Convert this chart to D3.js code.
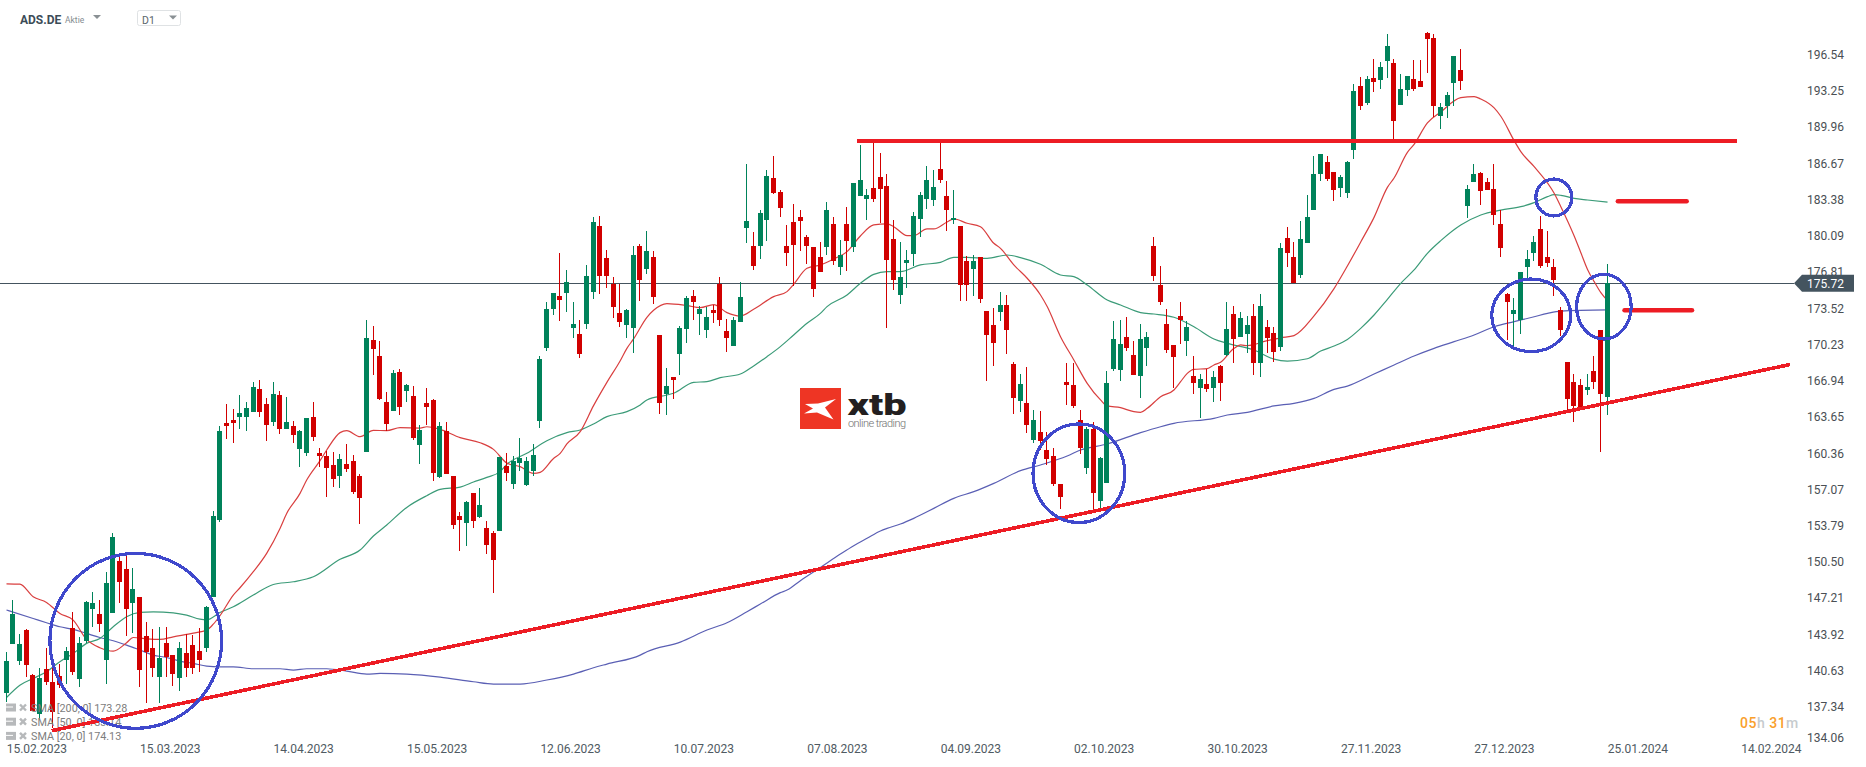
<!DOCTYPE html>
<html>
<head>
<meta charset="utf-8">
<title>ADS.DE</title>
<script src="https://d3js.org/d3.v7.min.js"></script>
<style>
  body { margin: 0; background: #fff; }
  text { font-family: Roboto, sans-serif; }
</style>
</head>
<body>
<div class="chart"></div>
<script>
// daily candles, one value per bar
var opens = [
  138.26,142.71,141.16,143.99,139.88,136.31,140.40,139.21,139.79,141.25,
  144.15,139.51,143.02,145.92,145.46,141.25,145.58,150.28,149.58,146.47,
  146.98,143.45,142.32,139.72,142.78,141.68,139.63,141.86,142.59,142.07,
  142.35,147.05,154.07,162.94,163.21,163.49,163.49,163.95,166.05,164.68,
  163.03,165.50,162.39,162.67,160.56,160.20,163.49,160.20,159.92,159.10,
  158.09,159.19,159.46,158.09,160.29,170.54,169.07,164.86,164.04,167.61,
  165.87,165.41,160.93,164.77,165.05,158.00,162.21,158.09,154.43,153.79,
  156.53,154.34,153.33,152.87,153.06,159.00,157.36,159.28,157.27,158.55,
  163.12,169.80,173.37,174.56,174.84,171.63,171.08,172.00,174.93,180.97,
  178.04,175.69,173.01,171.91,171.63,179.14,177.03,178.13,170.99,165.59,
  167.15,169.25,171.54,174.56,172.91,171.45,173.28,175.69,171.36,169.99,
  172.18,180.78,179.14,179.14,181.51,185.36,184.08,179.14,181.33,181.79,
  179.96,179.04,178.13,179.04,181.15,177.21,181.15,179.04,183.71,183.44,
  184.44,185.45,184.63,179.78,174.65,177.58,178.40,181.61,183.44,183.35,
  186.18,183.71,181.52,180.97,177.76,177.03,178.13,173.19,171.91,173.10,
  173.74,168.34,164.95,164.77,161.39,162.12,160.47,159.92,157.36,166.69,
  166.42,163.22,158.82,162.39,155.80,157.45,167.88,167.79,170.81,169.16,
  167.24,169.80,179.14,175.57,172.00,170.08,172.73,170.44,167.24,166.14,
  166.51,166.14,168.16,169.16,172.91,170.81,171.08,172.73,168.43,171.72,
  171.18,169.89,179.86,178.13,176.48,179.41,182.42,185.72,186.82,185.90,
  184.44,183.98,187.91,193.77,192.22,194.50,194.32,196.06,195.88,192.03,
  193.41,194.41,194.23,198.62,198.16,191.03,191.94,194.05,195.24,182.79,
  184.99,185.81,184.99,184.35,181.14,174.74,172.91,172.36,177.21,178.49,
  180.69,178.13,177.21,173.27,168.52,166.69,166.41,165.95,167.69,171.45,
  165.31
];
var closes = [
  141.16,145.46,142.71,140.79,136.61,139.57,139.21,136.52,138.96,142.07,
  140.18,142.78,146.56,146.44,144.54,148.30,152.50,148.42,145.92,147.72,
  140.33,142.01,140.55,141.43,141.49,139.97,142.32,140.49,140.49,141.25,
  146.10,154.43,162.21,162.67,162.94,163.86,164.31,166.23,163.95,162.76,
  165.59,162.39,163.03,161.84,162.21,163.40,161.66,159.92,158.82,157.82,
  159.65,158.73,156.63,156.08,170.72,169.71,165.14,162.85,167.52,164.40,
  166.42,161.57,162.30,164.40,158.37,162.67,158.27,153.61,154.07,155.71,
  153.97,155.44,151.78,150.40,159.83,158.37,159.46,159.74,159.46,160.01,
  168.80,173.37,174.84,174.20,175.84,172.00,169.25,176.39,181.33,176.39,
  176.39,173.55,172.18,173.28,178.31,176.03,178.68,174.47,164.77,166.33,
  166.88,171.63,174.38,174.01,173.37,172.64,173.01,172.37,170.72,172.37,
  174.47,181.42,177.31,182.16,185.54,183.99,182.61,178.50,179.23,181.42,
  179.14,175.20,176.76,182.43,177.76,178.31,179.59,184.90,185.18,183.80,
  183.44,184.35,177.86,176.03,176.30,177.86,181.88,183.80,185.18,184.53,
  185.18,182.43,181.70,175.57,175.57,177.76,174.29,170.99,170.26,173.74,
  171.45,165.23,166.51,162.76,163.22,161.29,159.65,157.36,156.17,166.42,
  164.50,160.65,162.39,156.54,159.74,166.60,170.63,170.17,169.80,167.33,
  170.63,170.81,176.39,174.01,169.62,168.98,172.37,171.72,166.60,166.97,
  166.05,167.15,166.60,171.54,170.63,172.55,171.91,168.43,173.65,170.72,
  169.44,178.95,178.49,175.72,179.77,181.78,185.72,187.55,185.26,184.25,
  185.44,186.82,193.31,191.94,194.41,194.14,195.51,197.43,190.57,193.50,
  194.69,193.50,193.68,198.07,191.94,191.85,192.95,196.52,194.23,184.35,
  185.72,184.16,184.25,181.97,178.95,174.01,173.27,176.75,177.94,179.50,
  177.30,177.58,176.02,171.45,165.13,164.49,164.31,166.23,166.69,165.59,
  175.72
];
var highs = [
  142.01,146.74,143.63,144.06,139.97,140.49,142.32,140.79,140.94,142.41,
  145.61,143.32,146.65,147.47,146.74,149.30,152.84,150.70,150.83,149.70,
  146.98,144.76,144.06,144.24,144.24,141.71,142.87,143.63,143.54,144.15,
  146.19,154.89,162.67,164.68,164.22,165.50,164.86,166.69,166.88,165.23,
  166.69,165.87,165.32,163.12,162.30,163.40,164.86,160.65,160.38,160.29,
  160.10,161.02,160.01,158.27,172.36,171.82,170.44,165.78,167.79,167.88,
  166.51,166.33,162.76,166.14,165.14,163.03,163.03,158.09,154.80,155.80,
  156.53,156.99,153.97,153.06,159.86,160.20,159.92,161.57,159.83,161.02,
  169.07,174.01,174.84,178.50,176.94,174.01,172.37,177.40,181.79,181.88,
  178.77,176.30,175.69,173.37,179.14,179.32,180.51,178.68,170.99,167.97,
  167.15,171.82,174.56,175.11,173.65,173.55,173.74,176.30,172.43,172.64,
  175.84,186.64,180.42,182.43,186.09,187.37,184.26,181.06,182.98,182.43,
  180.14,179.04,179.50,183.16,181.79,179.69,182.70,184.90,188.38,184.32,
  188.65,187.65,185.72,181.52,179.50,178.77,182.25,184.08,186.46,186.09,
  188.65,185.08,184.26,180.97,178.22,178.31,178.13,173.19,173.46,174.93,
  174.65,168.52,167.42,168.06,164.13,164.04,162.12,160.65,157.36,168.43,
  168.43,164.13,162.60,163.03,159.83,167.70,172.27,172.37,172.64,170.44,
  172.00,171.27,179.96,177.31,173.37,170.08,174.01,172.27,169.07,167.42,
  167.88,167.70,168.25,174.01,173.65,173.10,172.73,173.83,174.74,172.37,
  171.72,179.41,180.87,179.50,181.42,183.80,187.37,187.55,187.37,185.90,
  185.63,186.91,193.95,194.59,194.69,196.24,195.97,198.53,196.24,194.87,
  194.69,196.15,196.15,198.71,198.53,192.22,193.22,196.52,197.16,184.71,
  186.63,185.90,185.35,186.63,182.42,174.83,174.37,176.75,178.77,180.05,
  181.88,180.50,177.94,173.55,168.52,167.42,166.96,167.42,169.07,171.45,
  177.48
];
var lows = [
  137.44,142.71,140.79,139.72,136.61,135.76,138.96,135.00,138.66,139.11,
  139.88,138.81,142.84,144.30,143.84,139.05,145.52,146.50,143.45,143.69,
  138.75,137.29,139.72,137.35,139.72,138.87,138.44,139.72,139.97,140.18,
  142.01,147.05,153.88,161.47,161.11,162.39,162.21,163.95,163.49,161.29,
  162.67,161.93,162.39,161.11,158.91,159.92,161.29,158.91,156.17,157.08,
  156.99,158.46,156.44,153.70,160.29,167.33,165.05,162.21,164.04,163.67,
  164.86,161.39,159.19,162.76,157.63,157.91,158.27,153.24,151.23,151.69,
  153.33,154.25,150.95,147.39,153.06,157.63,156.90,158.55,157.18,158.09,
  162.51,169.53,172.82,172.27,173.10,170.72,168.89,171.54,174.29,174.74,
  175.29,172.55,171.72,170.72,169.35,174.10,176.57,173.83,163.76,163.67,
  165.14,167.33,170.26,172.37,170.99,170.72,172.09,171.82,169.44,169.99,
  172.18,179.41,176.94,177.95,179.59,183.89,181.79,177.31,175.48,178.68,
  177.49,174.47,176.76,178.31,177.40,176.48,176.85,178.59,183.71,181.52,
  183.16,181.24,171.63,175.11,173.83,175.29,177.31,179.96,182.52,182.80,
  184.90,180.51,181.15,174.10,174.10,174.56,173.92,166.78,168.16,172.27,
  169.25,163.76,163.95,162.03,161.11,160.47,159.10,157.18,155.07,164.59,
  164.31,160.10,158.27,154.98,155.16,157.45,167.70,166.78,169.53,167.33,
  165.23,168.16,175.93,173.74,169.35,166.14,170.17,169.07,165.59,163.40,
  165.78,164.86,164.95,169.07,168.43,170.81,169.35,167.33,167.15,169.35,
  168.52,169.52,177.21,175.72,176.20,179.41,182.42,185.08,185.08,183.25,
  183.61,183.52,187.09,191.58,192.03,193.22,193.50,194.50,188.83,192.03,
  192.86,193.31,193.68,194.96,190.93,189.84,190.84,191.94,193.41,181.69,
  184.99,182.88,184.25,181.05,178.13,170.53,169.92,171.08,176.02,177.76,
  177.12,177.21,174.56,170.90,164.13,163.03,164.13,165.50,166.05,160.28,
  163.67
];

// moving averages, sampled at the listed bars
var sma20Bars = [0,2,4,6,8,10,12,14,16,18,19,21,23,25,28,30,31,32,34,35,37,39,41,42,44,45,47,48,50,51,53,55,57,59,62,63,65,68,71,73,75,77,79,80,82,83,84,86,88,90,92,93,94,96,97,99,102,104,106,108,110,112,115,117,118,120,122,124,126,128,130,132,133,135,136,138,139,141,142,144,146,148,149,151,153,155,156,158,160,162,164,165,167,169,170,171,173,175,176,177,178,180,181,182,184,185,186,189,191,193,196,199,201,203,205,207,208,210,211,213,215,218,220,221,223,224,226,227,229,232,233,235,236,237,238,239,240];
var sma20Values = [148.23,148.20,147.05,146.53,145.52,144.91,143.14,142.38,142.07,142.84,143.32,143.20,143.14,143.38,143.72,143.99,144.54,145.31,147.20,147.87,149.34,151.02,153.30,154.67,156.50,157.72,159.50,160.47,162.06,162.24,161.69,162.27,162.24,162.51,162.48,162.60,162.36,161.60,161.14,160.53,159.28,158.95,158.33,158.43,159.70,160.17,161.02,162.15,164.53,166.66,168.64,169.77,170.63,172.61,173.25,173.86,173.68,173.49,173.77,173.04,172.73,173.34,174.50,174.96,175.63,177.09,177.40,177.95,178.62,180.05,181.06,181.15,180.90,180.08,180.08,180.69,180.69,181.33,181.61,181.21,180.90,179.38,178.92,177.40,176.18,174.65,173.59,170.84,168.71,166.57,165.05,164.50,164.34,163.98,163.92,164.28,165.35,165.96,166.72,167.48,167.85,167.91,168.25,168.49,169.77,170.08,170.02,170.47,170.73,170.93,172.73,175.23,177.30,179.50,181.75,184.50,185.35,187.70,188.43,190.39,191.39,192.70,192.80,192.58,191.76,191.00,188.77,187.76,186.39,183.95,182.73,180.05,178.52,176.99,175.87,174.86,174.13];

var sma50Bars = [0,2,4,6,8,10,12,14,16,18,20,22,25,27,29,30,32,34,37,40,43,46,50,53,55,57,60,63,65,68,70,72,74,75,78,81,84,86,88,90,93,95,96,99,100,103,105,107,110,112,114,116,118,120,122,123,126,128,130,132,134,137,140,142,144,147,150,152,155,158,160,162,165,167,170,172,175,178,181,183,187,190,192,195,197,199,201,203,205,207,209,211,213,215,218,221,224,227,229,231,232,233,235,237,240];
var sma50Values = [137.83,138.96,139.57,140.18,141.10,141.86,142.78,143.23,144.30,145.22,145.61,145.67,145.58,145.37,145.00,144.94,145.60,146.13,147.20,148.17,148.42,148.87,150.47,151.32,152.60,153.61,155.22,156.29,156.87,157.08,157.54,157.97,158.49,159.16,160.17,161.32,162.06,162.30,162.85,163.52,163.98,164.59,165.05,165.50,165.66,166.66,166.72,167.09,167.42,168.16,169.01,169.93,170.99,172.06,172.97,173.59,174.65,175.72,176.54,176.79,176.79,177.40,177.64,178.10,178.10,178.00,178.31,178.07,177.46,176.48,176.33,175.57,174.20,173.74,173.04,172.91,172.61,171.75,170.63,170.23,169.62,168.78,168.61,168.82,169.52,169.98,170.59,171.60,172.82,174.25,175.72,176.94,178.46,179.62,181.05,181.97,182.42,182.73,183.10,183.65,183.83,183.77,183.49,183.34,183.14];

var sma200Bars = [0,4,6,8,10,12,14,16,18,20,22,24,26,28,30,32,34,37,41,43,45,48,51,54,56,60,65,70,73,77,81,85,88,90,95,96,101,105,108,111,113,116,117,119,122,125,127,129,131,132,134,136,139,142,145,148,152,155,159,161,165,170,173,175,181,183,186,190,193,196,199,201,205,208,211,214,217,220,223,226,229,231,233,240];
var sma200Values = [145.83,145.06,144.67,144.30,144.06,143.69,143.32,143.02,142.62,142.17,141.71,141.49,141.16,140.95,140.70,140.64,140.64,140.46,140.46,140.33,140.46,140.46,140.24,139.97,140.03,139.97,139.70,139.27,139.06,139.06,139.43,139.97,140.55,140.89,141.71,142.02,142.90,144.00,144.67,145.68,146.38,147.42,147.66,148.52,149.73,150.95,151.72,152.39,153.06,153.30,153.70,154.22,155.13,156.05,156.66,157.42,158.58,159.10,159.92,160.47,161.02,162.06,162.60,162.91,163.37,163.67,163.92,164.50,164.74,165.19,166.02,166.32,167.42,168.25,169.07,169.77,170.38,170.99,171.75,172.21,172.66,172.97,173.18,173.28];

// axis labels
var priceTicks = [196.54,193.25,189.96,186.67,183.38,180.09,176.81,173.52,170.23,166.94,163.65,160.36,157.07,153.79,150.50,147.21,143.92,140.63,137.34,134.06];
var dateBars = [0,20,40,60,80,100,120,140,160,180,200,220,240,260];
var dateLabels = ["15.02.2023","15.03.2023","14.04.2023","15.05.2023","12.06.2023","10.07.2023","07.08.2023","04.09.2023","02.10.2023","30.10.2023","27.11.2023","27.12.2023","25.01.2024","14.02.2024"];
var lastPrice = 175.72;

// hand drawn analysis on top of the chart
var redLineBars = [[6.8,267.4],[127.55,259.4]];
var redLinePrices = [[134.79,168.29],[188.71,188.71]];
var markerBars = [[241.6,251.9],[242.6,252.7]];
var markerPrices = [183.22,173.25];
var circleBars = [19.42,160.8,232.0,228.6,239.5];
var circlePrices = [143.01,158.34,183.57,172.79,173.58];
var circleBarRadius = [12.87,6.87,2.7,5.92,4.09];
var circlePriceRadius = [8.0,4.51,1.69,3.32,2.96];

var legendLabels = ["SMA [200, 0] 173.28","SMA [50, 0] 183.14","SMA [20, 0] 174.13"];

var svgWidth = 1866;
var svgHeight = 767;

var svg = d3.select(".chart")
  .append("svg")
  .attr("width", svgWidth)
  .attr("height", svgHeight)
  .style("display", "block");

var xScale = d3.scaleLinear().domain([0, 260]).range([6.2, 1740.66]);
var yScale = d3.scaleLinear().domain([196.54, 175.72]).range([55.7, 283.3]);
// labels are spaced a little wider than the candles and the last one is pushed up
var yTickScale = d3.scaleLinear().domain([196.54, 137.34, 134.06]).range([54.5, 706.9, 738]);

var barIndex = d3.range(opens.length);
var upColor = "#00825a";
var downColor = "#d10000";

// header
svg.append("text").attr("x", 20).attr("y", 23.5)
  .attr("font-size", 12).attr("font-weight", 700).attr("fill", "#3c4c57").text("ADS.DE");
svg.append("text").attr("x", 65).attr("y", 22.5)
  .attr("font-size", 8.5).attr("fill", "#858c91").text("Aktie");
svg.append("path").attr("d", "M93,15H101L97,19Z").attr("fill", "#8a9094");
svg.append("rect").attr("x", 137.5).attr("y", 10.5).attr("width", 43).attr("height", 15).attr("rx", 2)
  .attr("fill", "#fff").attr("stroke", "#dfe2e4");
svg.append("text").attr("x", 142).attr("y", 24)
  .attr("font-size", 10.5).attr("fill", "#5a656c").text("D1");
svg.append("path").attr("d", "M169,15.5H177L173,19.5Z").attr("fill", "#8a9094");

// logo
var logo = svg.append("g").attr("transform", "translate(800, 388)");
logo.append("rect").attr("width", 41).attr("height", 41).attr("fill", "#ee3524");
logo.append("path")
  .attr("d", "M5,16L18,15.5L36,11L25,19.5L33.5,31.5L17,24.5L4,25.5L13,20.5Z")
  .attr("fill", "#fff");
logo.append("text").attr("x", 47.5).attr("y", 27)
  .attr("font-size", 29).attr("font-weight", 900).attr("fill", "#231f20")
  .attr("textLength", 59).attr("lengthAdjust", "spacingAndGlyphs").text("xtb");
logo.append("text").attr("x", 48).attr("y", 38.5)
  .attr("font-size", 11).attr("font-weight", 300).attr("fill", "#6f6f6f")
  .attr("textLength", 58).text("online trading");

// current price line sits under the candles
svg.append("line")
  .attr("x1", 0).attr("x2", 1794)
  .attr("y1", yScale(lastPrice)).attr("y2", yScale(lastPrice))
  .attr("stroke", "#44545f").attr("stroke-width", 1)
  .attr("shape-rendering", "crispEdges");

// moving averages
function smaLine(bars, values, color) {
  var line = d3.line()
    .x(d => xScale(bars[d]) + 0.3)
    .y(d => yScale(values[d]))
    .curve(d3.curveMonotoneX);
  svg.append("path")
    .attr("d", line(d3.range(bars.length)))
    .attr("fill", "none")
    .attr("stroke", color)
    .attr("stroke-width", 1.2);
}
smaLine(sma200Bars, sma200Values, "#5a5fb4");
smaLine(sma50Bars, sma50Values, "#3b9b78");
smaLine(sma20Bars, sma20Values, "#d93f3f");

// candles, wick one pixel wide, body five
var candles = svg.selectAll(".candle")
  .data(barIndex)
  .enter()
  .append("g")
  .attr("class", "candle")
  .attr("shape-rendering", "crispEdges")
  .attr("fill", d => closes[d] >= opens[d] ? upColor : downColor);

candles.append("rect")
  .attr("x", d => Math.floor(xScale(d)))
  .attr("width", 1)
  .attr("y", d => yScale(highs[d]))
  .attr("height", d => yScale(lows[d]) - yScale(highs[d]));

candles.append("rect")
  .attr("x", d => Math.floor(xScale(d)) - 2)
  .attr("width", 5)
  .attr("y", d => yScale(Math.max(opens[d], closes[d])))
  .attr("height", d => Math.max(2, Math.abs(yScale(opens[d]) - yScale(closes[d]))));

// axes
var xAxis = d3.axisBottom(xScale)
  .tickValues(dateBars)
  .tickFormat((d, i) => dateLabels[i])
  .tickSize(0)
  .tickPadding(0);

var xAxisGroup = svg.append("g").attr("transform", "translate(0, 744)").call(xAxis);
xAxisGroup.select(".domain").remove();
xAxisGroup.selectAll("text")
  .attr("text-anchor", "start")
  .attr("font-size", 12)
  .attr("font-family", "Roboto, sans-serif")
  .attr("fill", "#4f5a62");

var yAxis = d3.axisRight(yTickScale)
  .tickValues(priceTicks)
  .tickFormat(d3.format(".2f"))
  .tickSize(0)
  .tickPadding(0);

var yAxisGroup = svg.append("g").attr("transform", "translate(1807, 0)").call(yAxis);
yAxisGroup.select(".domain").remove();
yAxisGroup.selectAll("text")
  .attr("font-size", 12)
  .attr("font-family", "Roboto, sans-serif")
  .attr("fill", "#4a4f54");

// last price tag
var tagY = yScale(lastPrice);
svg.append("path")
  .attr("d", `M1794,${tagY}L1802,${tagY - 8.5}H1854V${tagY + 8.5}H1802Z`)
  .attr("fill", "#44545f");
svg.append("text").attr("x", 1807).attr("y", tagY + 5)
  .attr("font-size", 12).attr("fill", "#fff").text(d3.format(".2f")(lastPrice));

// countdown
var countdown = svg.append("text").attr("x", 1740).attr("y", 728)
  .attr("font-size", 14).attr("font-weight", 500).attr("letter-spacing", 0.5);
countdown.append("tspan").attr("fill", "#f9a02c").text("05");
countdown.append("tspan").attr("fill", "#c6cbce").text("h ");
countdown.append("tspan").attr("fill", "#f9a02c").text("31");
countdown.append("tspan").attr("fill", "#c6cbce").text("m");

// indicator legend
var legend = svg.selectAll(".legendRow")
  .data(legendLabels)
  .enter()
  .append("g")
  .attr("class", "legendRow")
  .attr("transform", (d, i) => `translate(6, ${707.5 + i * 14.2})`);
legend.append("rect").attr("y", -4).attr("width", 10).attr("height", 8).attr("fill", "#b7b9bb");
legend.append("rect").attr("y", -1).attr("x", 0).attr("width", 7).attr("height", 1).attr("fill", "#fff");
legend.append("path").attr("d", "M14,-3L20,3M20,-3L14,3")
  .attr("stroke", "#b7b9bb").attr("stroke-width", 2.4);
legend.append("text").attr("x", 25).attr("y", 4)
  .attr("font-size", 10.8).attr("fill", "#7d7d7d").text(d => d);

// analysis drawings, the originals are not antialiased
redLineBars.forEach(function(bars, i) {
  svg.append("line")
    .attr("x1", xScale(bars[0])).attr("x2", xScale(bars[1]))
    .attr("y1", yScale(redLinePrices[i][0])).attr("y2", yScale(redLinePrices[i][1]))
    .attr("stroke", "#ed1c24").attr("stroke-width", 3.6)
    .attr("shape-rendering", "crispEdges");
});

markerBars.forEach(function(bars, i) {
  svg.append("line")
    .attr("x1", xScale(bars[0])).attr("x2", xScale(bars[1]))
    .attr("y1", yScale(markerPrices[i])).attr("y2", yScale(markerPrices[i]))
    .attr("stroke", "#ed1c24").attr("stroke-width", 4.6).attr("stroke-linecap", "round");
});

circleBars.forEach(function(bar, i) {
  svg.append("ellipse")
    .attr("cx", xScale(bar))
    .attr("cy", yScale(circlePrices[i]))
    .attr("rx", xScale(bar + circleBarRadius[i]) - xScale(bar))
    .attr("ry", yScale(circlePrices[i] - circlePriceRadius[i]) - yScale(circlePrices[i]))
    .attr("fill", "none")
    .attr("stroke", "#3f48cc")
    .attr("stroke-width", 3.2)
    .attr("shape-rendering", "crispEdges");
});
</script>
</body>
</html>
